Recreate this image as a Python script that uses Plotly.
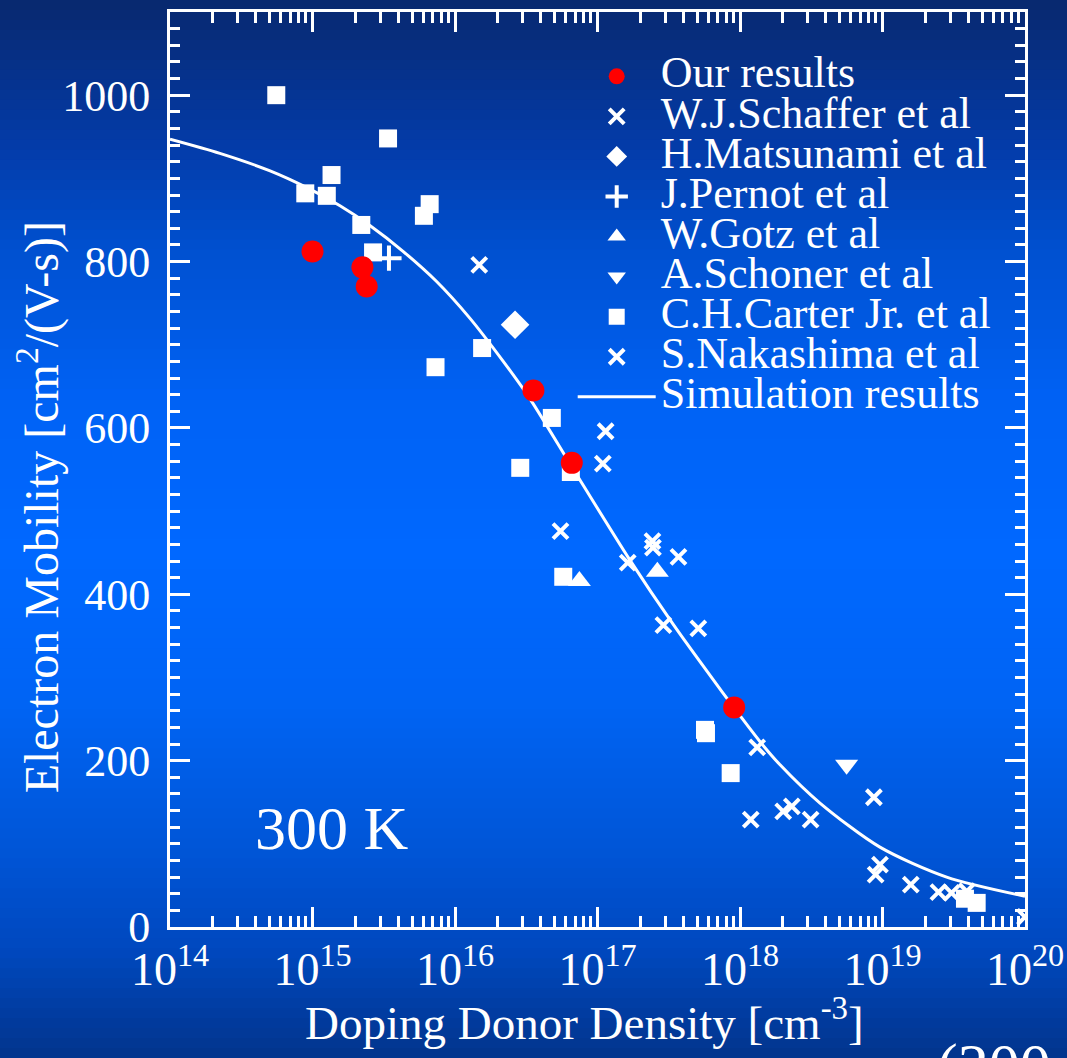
import plotly.graph_objects as go

# ---- measured electron mobility in 4H-SiC at 300 K ----
our_n = [1.0e15, 2.24e15, 2.4e15, 3.55e16, 6.6e16, 9.1e17]
our_mu = [812, 793, 770, 645, 558, 264]

schaffer_n = [1.48e16, 1.14e17, 1.09e17, 5.5e16, 2.43e17, 2.45e17, 3.7e17, 1.63e17, 2.9e17, 5.1e17]
schaffer_mu = [796, 596, 557, 476, 464, 456, 445, 438, 363, 359]

matsunami_n = [2.64e16]
matsunami_mu = [724]

pernot_n = [3.44e15]
pernot_mu = [804]

gotz_n = [7.46e16, 2.63e17]
gotz_mu = [416, 427]

schoner_n = [5.6e18]
schoner_mu = [195]

carter_n = [5.57e14, 3.39e15, 1.36e15, 8.9e14, 1.26e15, 2.2e15, 2.66e15, 6.64e15, 6.05e15,
            1.55e16, 7.3e15, 4.78e16, 2.87e16, 6.5e16, 5.75e16, 5.68e17, 5.77e17, 8.6e17,
            3.79e19, 4.58e19]
carter_mu = [1000, 948, 904, 882, 879, 844, 811, 869, 855,
             696, 673, 612, 552, 547, 421, 237, 233, 185,
             34, 29]

nakashima_n = [1.32e18, 8.7e18, 1.19e18, 2.01e18, 2.31e18, 3.13e18, 9.6e18, 8.95e18,
               1.58e19, 2.47e19, 3.05e19, 3.9e19, 1.0e20]
nakashima_mu = [216, 156, 129, 139, 145, 129, 75, 63, 51, 42, 41, 43, 12]

# simulated mobility curve
sim_n = [1e14, 2.24e14, 5.04e14, 9.6e14, 1.56e15, 2.54e15, 4.34e15, 7.43e15, 1.27e16,
         2.18e16, 3.36e16, 6.73e16, 1.69e17, 3.39e17, 6.50e17, 9.23e17, 1.38e18,
         1.91e18, 3.64e18, 9.59e18, 2.82e19, 1e20]
sim_mu = [947, 930, 909, 887, 867, 843, 812, 776, 732,
          680, 635, 551, 441, 364, 297, 262, 223,
          195, 149, 96, 60, 37]

x_exponents = [14, 15, 16, 17, 18, 19, 20]
y_ticks = [0, 200, 400, 600, 800, 1000]

SERIF = "Liberation Serif, Times New Roman, serif"
WHITE = "white"

# page geometry used for the background bands
W, H = 1067, 1058
M_L, M_R, M_T, M_B = 170, 42, 12, 131
PLOT_W = W - M_L - M_R
PLOT_H = H - M_T - M_B


def lbl(s):
    return f"<span style='font-size:44px'>{s}</span>"


fig = go.Figure()

fig.add_trace(go.Scatter(
    x=sim_n, y=sim_mu, mode="lines", name=lbl("Simulation results"),
    line=dict(color=WHITE, width=3, shape="spline", smoothing=0.8), legendrank=9))

fig.add_trace(go.Scatter(
    x=carter_n, y=carter_mu, mode="markers", name=lbl("C.H.Carter Jr. et al"),
    marker=dict(symbol="square", size=18, color=WHITE), legendrank=7))

fig.add_trace(go.Scatter(
    x=schaffer_n, y=schaffer_mu, mode="markers", name=lbl("W.J.Schaffer et al"),
    marker=dict(symbol="x-thin", size=15, line=dict(color=WHITE, width=4)), legendrank=2))

fig.add_trace(go.Scatter(
    x=nakashima_n, y=nakashima_mu, mode="markers", name=lbl("S.Nakashima et al"),
    marker=dict(symbol="x-thin", size=15, line=dict(color=WHITE, width=4)), legendrank=8))

fig.add_trace(go.Scatter(
    x=matsunami_n, y=matsunami_mu, mode="markers", name=lbl("H.Matsunami et al"),
    marker=dict(symbol="diamond", size=22, color=WHITE), legendrank=3))

fig.add_trace(go.Scatter(
    x=pernot_n, y=pernot_mu, mode="markers", name=lbl("J.Pernot et al"),
    marker=dict(symbol="cross-thin", size=18, line=dict(color=WHITE, width=4)), legendrank=4))

fig.add_trace(go.Scatter(
    x=gotz_n, y=gotz_mu, mode="markers", name=lbl("W.Gotz et al"),
    marker=dict(symbol="triangle-up", size=20, color=WHITE), legendrank=5))

fig.add_trace(go.Scatter(
    x=schoner_n, y=schoner_mu, mode="markers", name=lbl("A.Schoner et al"),
    marker=dict(symbol="triangle-down", size=20, color=WHITE), legendrank=6))

fig.add_trace(go.Scatter(
    x=our_n, y=our_mu, mode="markers", name=lbl("Our results"),
    marker=dict(symbol="circle", size=22, color="#ff0000"), legendrank=1))

# vertical blue gradient behind everything, built from thin horizontal bands
stops = [(0, (8, 40, 110)), (150, (3, 60, 170)), (250, (0, 80, 208)), (400, (0, 98, 245)),
         (550, (0, 104, 255)), (700, (0, 100, 245)), (850, (0, 85, 215)),
         (950, (0, 72, 190)), (1058, (2, 52, 140))]
bands = 106
shapes = []
for i in range(bands):
    py = (i + 0.5) * H / bands
    c = stops[-1][1]
    for (a, ca), (b, cb) in zip(stops[:-1], stops[1:]):
        if a <= py <= b:
            t = (py - a) / (b - a)
            c = tuple(round(ca[k] + (cb[k] - ca[k]) * t) for k in range(3))
            break
    top_px, bot_px = i * H / bands, (i + 1) * H / bands + 1
    shapes.append(dict(
        type="rect", xref="paper", yref="paper", layer="below",
        x0=-M_L / PLOT_W, x1=(W - M_L) / PLOT_W,
        y0=(H - M_B - bot_px) / PLOT_H, y1=(H - M_B - top_px) / PLOT_H,
        line=dict(width=0), fillcolor="rgb(%d,%d,%d)" % c))

minor_x = [m * 10.0 ** e for e in x_exponents[:-1] for m in range(2, 10)]

fig.update_layout(
    width=W, height=H,
    margin=dict(l=M_L, r=M_R, t=M_T, b=M_B),
    paper_bgcolor="rgb(0,80,200)",
    plot_bgcolor="rgba(0,0,0,0)",
    font=dict(family=SERIF, color=WHITE),
    shapes=shapes,
    showlegend=True,
    legend=dict(x=0.471, y=0.957, xanchor="left", yanchor="top",
                bgcolor="rgba(0,0,0,0)", font=dict(size=28.5, family=SERIF, color=WHITE),
                itemwidth=78, tracegroupgap=0),
    annotations=[
        dict(text="300 K", xref="paper", yref="paper", x=0.19, y=0.108,
             xanchor="center", yanchor="middle",
             showarrow=False, font=dict(size=62, family=SERIF, color=WHITE)),
        dict(text="(200", xref="paper", yref="paper", x=0.895, y=-0.112,
             xanchor="left", yanchor="top", showarrow=False,
             font=dict(size=62, family=SERIF, color=WHITE)),
        dict(text="Doping Donor Density [cm<sup>-3</sup>]", xref="paper", yref="paper",
             x=0.485, y=-0.101, xanchor="center", yanchor="middle", showarrow=False,
             font=dict(size=47, family=SERIF, color=WHITE)),
        dict(text="Electron Mobility [cm<sup>2</sup>/(V-s)]", xref="paper", yref="paper",
             x=-0.154, y=0.459, xanchor="center", yanchor="middle", textangle=-90,
             showarrow=False, font=dict(size=48, family=SERIF, color=WHITE)),
    ],
)

fig.update_xaxes(
    type="log", range=[14, 20], automargin=False,
    tickvals=[10.0 ** e for e in x_exponents],
    ticktext=[f"10<sup>{e}</sup>" for e in x_exponents],
    ticks="inside", ticklen=20, tickwidth=3, tickcolor=WHITE,
    minor=dict(tickvals=minor_x, ticks="inside", ticklen=11, tickwidth=3, tickcolor=WHITE,
               showgrid=False),
    showline=True, linewidth=3, linecolor=WHITE, mirror="allticks",
    showgrid=False, zeroline=False,
    tickfont=dict(size=46, family=SERIF, color=WHITE),
)

fig.update_yaxes(
    range=[0, 1100], automargin=False,
    tickvals=y_ticks,
    ticks="inside", ticklen=20, tickwidth=3, tickcolor=WHITE,
    minor=dict(dtick=20, ticks="inside", ticklen=10, tickwidth=3, tickcolor=WHITE,
               showgrid=False),
    showline=True, linewidth=3, linecolor=WHITE, mirror="allticks",
    showgrid=False, zeroline=False, ticklabelstandoff=8,
    tickfont=dict(size=44, family=SERIF, color=WHITE),
)

fig.write_html("out.html")
